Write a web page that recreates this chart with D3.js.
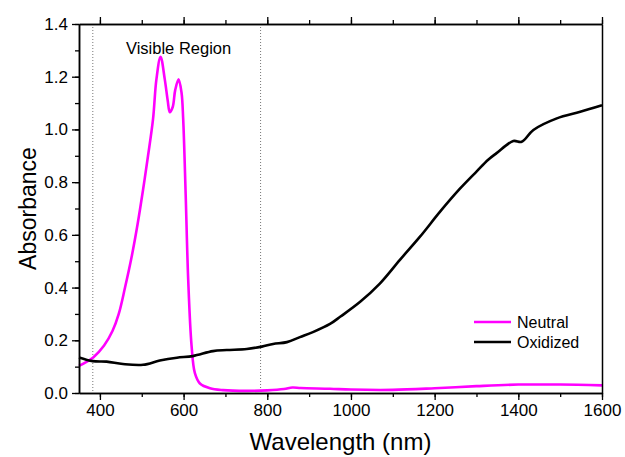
<!DOCTYPE html>
<html>
<head>
<meta charset="utf-8">
<script src="https://cdn.jsdelivr.net/npm/d3@7"></script>
<style>
body { margin: 0; background: #fff; }
text { font-family: "Liberation Sans", Arial, sans-serif; }
</style>
</head>
<body>
<div class="visualization"></div>
<script>
// data: [wavelength nm, absorbance]
var neutral = [[350,0.103],[384,0.135],[410,0.18],[430,0.235],[445,0.30],[460,0.40],[475,0.51],
  [490,0.64],[503,0.77],[515,0.9],[527,1.04],[535,1.19],[545,1.276],[555,1.19],[562,1.11],
  [567,1.065],[574,1.085],[580,1.15],[588,1.19],[595,1.14],[599,1.04],[605,0.75],[611,0.43],
  [619,0.18],[627,0.075],[639,0.036],[663,0.018],[694,0.011],[750,0.008],[800,0.01],
  [840,0.015],[860,0.021],[880,0.019],[950,0.016],[1000,0.013],[1100,0.012],[1200,0.018],
  [1300,0.026],[1400,0.032],[1500,0.032],[1600,0.029]];
var oxidized = [[350,0.135],[383,0.121],[416,0.119],[455,0.110],[503,0.107],[543,0.123],
  [584,0.134],[622,0.140],[670,0.159],[703,0.163],[751,0.167],[787,0.176],[814,0.186],
  [847,0.193],[878,0.212],[909,0.231],[950,0.262],[975,0.29],[1022,0.346],[1069,0.415],
  [1117,0.505],[1165,0.593],[1213,0.688],[1261,0.776],[1300,0.84],[1328,0.885],[1348,0.91],
  [1388,0.956],[1408,0.953],[1436,0.998],[1492,1.042],[1548,1.067],[1600,1.092]];
var visibleBounds = [383, 784];
var xTicks = [400, 600, 800, 1000, 1200, 1400, 1600];
var yTicks = [0, 0.2, 0.4, 0.6, 0.8, 1.0, 1.2, 1.4];
var seriesNames = ["Neutral", "Oxidized"];
var seriesColors = ["#ff00ff", "#000000"];

var margin = {top: 24, right: 23, bottom: 64, left: 79};
var width = 625 - margin.left - margin.right;
var height = 457 - margin.top - margin.bottom;

var svg = d3.select(".visualization").append("svg")
    .attr("width", 625).attr("height", 457);
var g = svg.append("g")
    .attr("transform", "translate(" + margin.left + "," + margin.top + ")");

var xScale = d3.scaleLinear().domain([350, 1600]).range([0, width]);
var yScale = d3.scaleLinear().domain([0, 1.4]).range([height, 0]);

// visible region markers
g.selectAll(".vis").data(visibleBounds).enter().append("line")
    .attr("x1", function(d){ return xScale(d); })
    .attr("x2", function(d){ return xScale(d); })
    .attr("y1", 0).attr("y2", height)
    .attr("stroke", "#777").attr("stroke-width", 1)
    .attr("stroke-dasharray", "1,2");

g.append("text")
    .attr("x", xScale(588)).attr("y", 30)
    .attr("text-anchor", "middle")
    .attr("font-size", 16.5)
    .text("Visible Region");

// lines
var line = d3.line()
    .x(function(d){ return xScale(d[0]); })
    .y(function(d){ return yScale(d[1]); })
    .curve(d3.curveCatmullRom.alpha(0.5));

[neutral, oxidized].forEach(function(s, i){
    g.append("path")
        .datum(s)
        .attr("fill", "none")
        .attr("stroke", seriesColors[i])
        .attr("stroke-width", 2.6)
        .attr("stroke-linejoin", "round")
        .attr("d", line);
});

// axes
var minorX = d3.range(400, 1601, 100);
var minorY = d3.range(0, 1.41, 0.1);

function styleAxis(sel){
    sel.attr("font-family", "Liberation Sans, Arial, sans-serif");
    sel.selectAll(".domain").attr("stroke", "#000").attr("stroke-width", 1.5);
    sel.selectAll(".tick line").attr("stroke", "#000").attr("stroke-width", 1.3);
    sel.selectAll(".tick text").attr("font-size", 17).attr("fill", "#000");
}

// minor ticks
g.append("g").attr("transform", "translate(0," + height + ")")
    .call(d3.axisBottom(xScale).tickValues(minorX).tickSize(4).tickFormat("").tickSizeOuter(0))
    .call(styleAxis);
g.append("g")
    .call(d3.axisTop(xScale).tickValues(minorX).tickSize(4).tickFormat("").tickSizeOuter(0))
    .call(styleAxis);
g.append("g")
    .call(d3.axisLeft(yScale).tickValues(minorY).tickSize(4).tickFormat("").tickSizeOuter(0))
    .call(styleAxis);

// major ticks
g.append("g").attr("transform", "translate(0," + height + ")")
    .call(d3.axisBottom(xScale).tickValues(xTicks).tickSize(7).tickPadding(4)
        .tickFormat(d3.format("d")).tickSizeOuter(0))
    .call(styleAxis);
g.append("g")
    .call(d3.axisTop(xScale).tickValues(xTicks).tickSize(7).tickFormat("").tickSizeOuter(0))
    .call(styleAxis);
g.append("g")
    .call(d3.axisLeft(yScale).tickValues(yTicks).tickSize(7).tickPadding(4)
        .tickFormat(d3.format(".1f")).tickSizeOuter(0))
    .call(styleAxis);
g.append("g").attr("transform", "translate(" + width + ",0)")
    .call(d3.axisRight(yScale).tickValues([]).tickSizeOuter(0))
    .call(styleAxis);

// axis titles
svg.append("text")
    .attr("x", margin.left + xScale(975)).attr("y", 450)
    .attr("text-anchor", "middle").attr("font-size", 24)
    .text("Wavelength (nm)");
svg.append("text")
    .attr("transform", "translate(36," + (margin.top + height / 2) + ") rotate(-90)")
    .attr("text-anchor", "middle").attr("font-size", 23)
    .text("Absorbance");

// legend
var legend = g.selectAll(".legend").data(seriesNames).enter().append("g")
    .attr("transform", function(d, i){ return "translate(395," + (298 + i * 20) + ")"; });
legend.append("line")
    .attr("x1", 0).attr("x2", 37)
    .attr("stroke", function(d, i){ return seriesColors[i]; })
    .attr("stroke-width", 2.6);
legend.append("text")
    .attr("x", 43).attr("y", 5.5)
    .attr("font-size", 16)
    .text(function(d){ return d; });
</script>
</body>
</html>
